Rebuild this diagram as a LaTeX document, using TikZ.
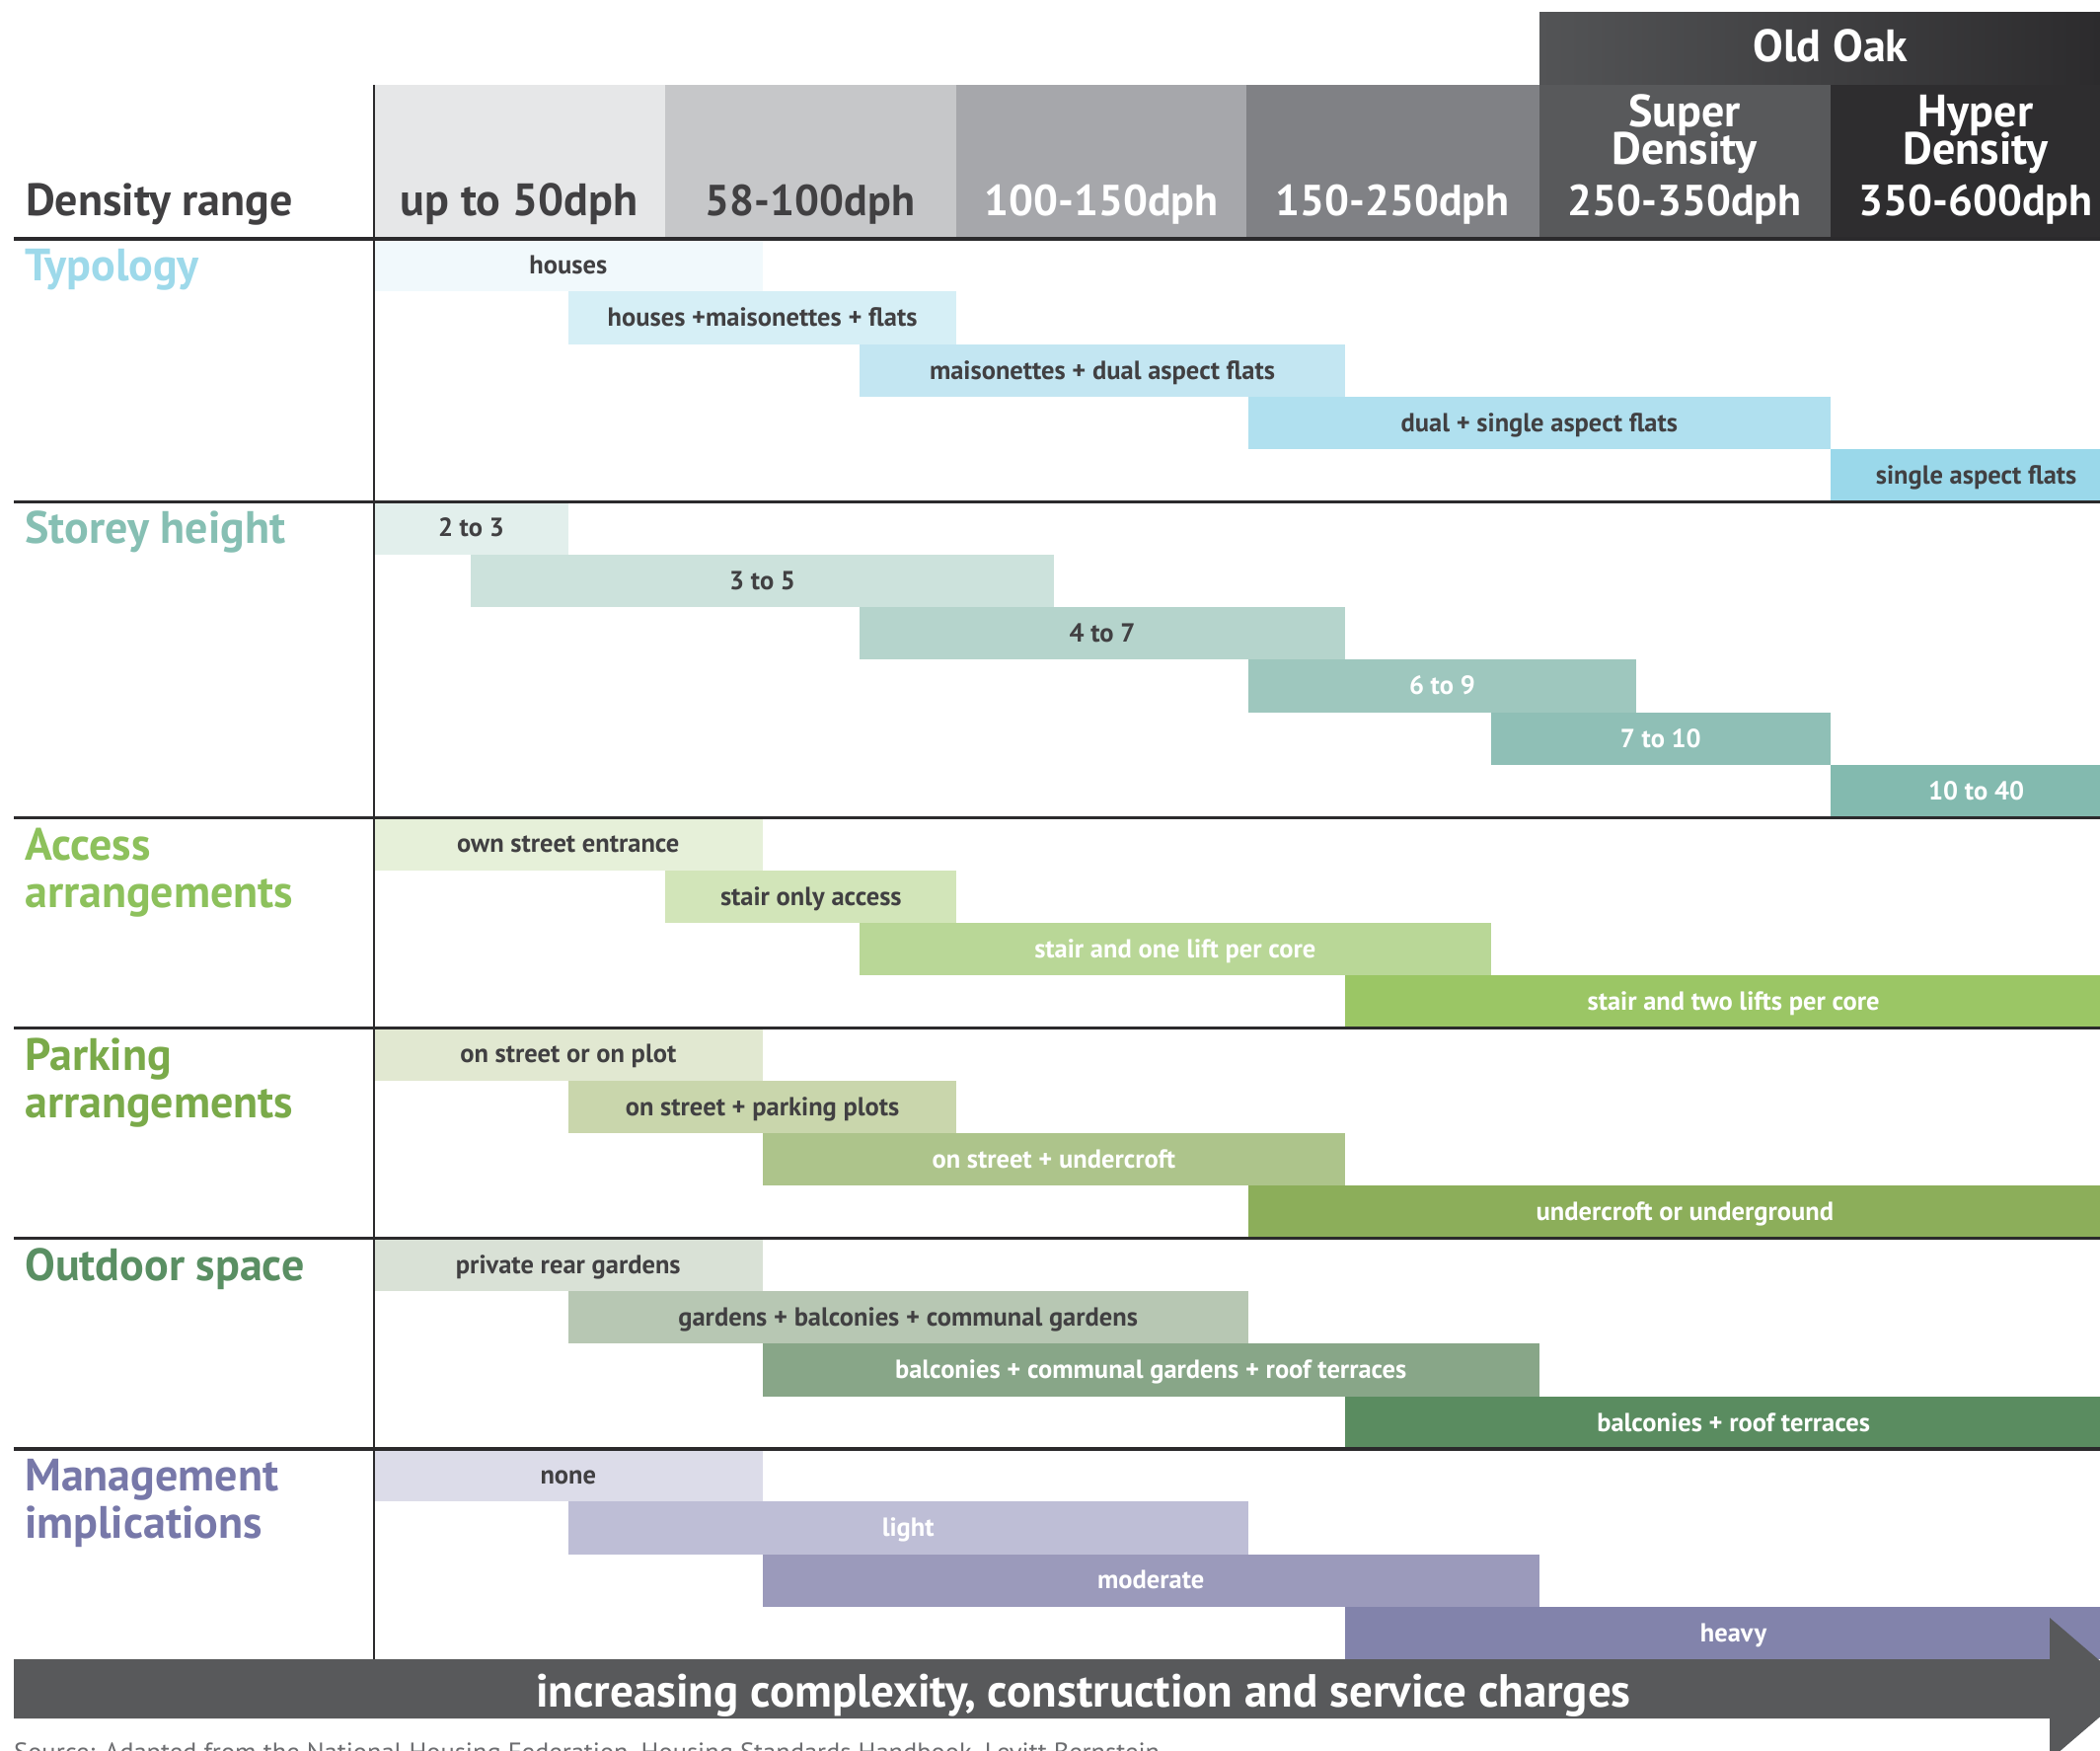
\documentclass[tikz,border=0pt]{standalone}
\usepackage{fontspec}
\setmainfont{PT Sans}
\definecolor{txt}{HTML}{414042}
\definecolor{lin}{HTML}{2B2A2C}
\definecolor{hA}{HTML}{E6E7E8}
\definecolor{hB}{HTML}{C6C7C9}
\definecolor{hC}{HTML}{A6A7AB}
\definecolor{hD}{HTML}{808185}
\definecolor{hE}{HTML}{58595B}
\definecolor{hF}{HTML}{2E2D2F}
\definecolor{ooL}{HTML}{535456}
\definecolor{ooR}{HTML}{2C2B2D}
\definecolor{arr}{HTML}{58595B}
\definecolor{src}{HTML}{6D6E71}
\definecolor{t1}{HTML}{F1F9FC}
\definecolor{t2}{HTML}{D6EFF6}
\definecolor{t3}{HTML}{C3E6F2}
\definecolor{t4}{HTML}{B0E0EF}
\definecolor{t5}{HTML}{9AD8EA}
\definecolor{s1}{HTML}{E2EFEC}
\definecolor{s2}{HTML}{CCE2DC}
\definecolor{s3}{HTML}{B5D4CC}
\definecolor{s4}{HTML}{9EC7BE}
\definecolor{s5}{HTML}{8FBFB6}
\definecolor{s6}{HTML}{83BAAF}
\definecolor{a1}{HTML}{E6F0D9}
\definecolor{a2}{HTML}{D2E5B9}
\definecolor{a3}{HTML}{B9D797}
\definecolor{a4}{HTML}{9BC665}
\definecolor{p1}{HTML}{E1E8D1}
\definecolor{p2}{HTML}{C9D6AC}
\definecolor{p3}{HTML}{ADC48B}
\definecolor{p4}{HTML}{8CAE5A}
\definecolor{o1}{HTML}{D9E1D6}
\definecolor{o2}{HTML}{B7C7B3}
\definecolor{o3}{HTML}{88A688}
\definecolor{o4}{HTML}{5A8C60}
\definecolor{m1}{HTML}{DCDCE9}
\definecolor{m2}{HTML}{BEBED6}
\definecolor{m3}{HTML}{9B9ABB}
\definecolor{m4}{HTML}{8283AB}
\definecolor{cTy}{HTML}{9DD9EA}
\definecolor{cSt}{HTML}{86BFB3}
\definecolor{cAc}{HTML}{8DC15C}
\definecolor{cPa}{HTML}{7AAA4A}
\definecolor{cOu}{HTML}{5A8F63}
\definecolor{cMa}{HTML}{7778A9}
\begin{document}
\begin{tikzpicture}[x=1pt,y=-1pt,
  barbox/.style={inner sep=0pt, minimum height=53.3pt, text height=17.5pt, text depth=0pt,
     font=\fontsize{26.5}{30}\selectfont\bfseries},
  hdrtxt/.style={inner sep=0pt, anchor=base, font=\fontsize{46}{38}\selectfont\bfseries},
  twoline/.style={inner sep=0pt, anchor=base, align=center,
     font=\fontsize{46}{38}\selectfont\bfseries},
  dphtxt/.style={inner sep=0pt, anchor=base, font=\fontsize{44}{38}\selectfont\bfseries},
  ttl/.style={inner sep=0pt, anchor=base west, font=\fontsize{46}{48}\selectfont\bfseries, align=left},
  sepline/.style={draw=lin, line width=3.2pt},
  vline/.style={draw=lin, line width=2pt}]
\lineskiplimit=-100pt
\useasboundingbox (0,0) rectangle (2128,1774);
\clip (0,0) rectangle (2128,1774);
% header columns
\fill[hA] (379,86) rectangle (674,242);
\fill[hB] (674,86) rectangle (969,242);
\fill[hC] (969,86) rectangle (1263,242);
\fill[hD] (1263,86) rectangle (1560,242);
\fill[hE] (1560,86) rectangle (1855,242);
\fill[hF] (1855,86) rectangle (2128,242);
\shade[left color=ooL, right color=ooR] (1560,13) rectangle (2128,86);
\node[hdrtxt, text=white] (oldoak) at (1855,63) {Old Oak};
\node[inner sep=0pt, anchor=base west, font=\fontsize{46}{38}\selectfont\bfseries, text=txt] (dens) at (26,218) {Density range};
\node[hdrtxt, text=txt] (c1) at (526,218) {up to 50dph};
\node[dphtxt, text=txt] (c2) at (821,218) {58-100dph};
\node[dphtxt, text=white] (c3) at (1116,218) {100-150dph};
\node[dphtxt, text=white] (c4) at (1411,218) {150-250dph};
\node[twoline, text=white] (c5a) at (1707,166) {Super\\Density};
\node[dphtxt, text=white] (c5) at (1707,218) {250-350dph};
\node[twoline, text=white] (c6a) at (2002,166) {Hyper\\Density};
\node[dphtxt, text=white] (c6) at (2002,218) {350-600dph};
% bars
\foreach \a/\b/\k/\c/\t/\n/\lab in {
 0/4/0/t1/txt/b1/houses,
 2/6/1/t2/txt/b2/houses +maisonettes + flats,
 5/10/2/t3/txt/b3/maisonettes + dual aspect flats,
 9/15/3/t4/txt/b4/dual + single aspect flats,
 15/18/4/t5/txt/b5/single aspect flats,
 0/2/5/s1/txt/b6/2 to 3,
 1/7/6/s2/txt/b7/3 to 5,
 5/10/7/s3/txt/b8/4 to 7,
 9/13/8/s4/white/b9/6 to 9,
 11.5/15/9/s5/white/b10/7 to 10,
 15/18/10/s6/white/b11/10 to 40,
 0/4/11/a1/txt/b12/own street entrance,
 3/6/12/a2/txt/b13/stair only access,
 5/11.5/13/a3/white/b14/stair and one lift per core,
 10/18/14/a4/white/b15/stair and two lifts per core,
 0/4/15/p1/txt/b16/on street or on plot,
 2/6/16/p2/txt/b17/on street + parking plots,
 4/10/17/p3/white/b18/on street + undercroft,
 9/18/18/p4/white/b19/undercroft or underground,
 0/4/19/o1/txt/b20/private rear gardens,
 2/9/20/o2/txt/b21/gardens + balconies + communal gardens,
 4/12/21/o3/white/b22/balconies + communal gardens + roof terraces,
 10/18/22/o4/white/b23/balconies + roof terraces,
 0/4/23/m1/txt/b24/none,
 2/9/24/m2/white/b25/light,
 4/12/25/m3/white/b26/moderate,
 10/18/26/m4/white/b27/heavy}{
  \pgfmathsetmacro\xa{379+\a*98.4}
  \pgfmathsetmacro\xb{379+\b*98.4}
  \pgfmathsetmacro\xm{(\xa+\xb)/2}
  \pgfmathsetmacro\yc{242+(\k+0.5)*53.3}
  \pgfmathsetmacro\w{\xb-\xa}
  \node[barbox, fill=\c, text=\t, minimum width=\w pt] (\n) at (\xm,\yc) {\lab};
}
% section titles (base = last line)
\node[ttl, text=cTy] (tty) at (25,284) {Typology};
\node[ttl, text=cSt] (tst) at (25,550) {Storey height};
\node[ttl, text=cAc] (tac) at (25,919) {Access\\arrangements};
\node[ttl, text=cPa] (tpa) at (25,1132) {Parking\\arrangements};
\node[ttl, text=cOu] (tou) at (25,1297) {Outdoor space};
\node[ttl, text=cMa] (tma) at (25,1558) {Management\\implications};
% lines
\draw[sepline] (14,242) -- (2128,242);
\draw[sepline] (14,508.5) -- (2128,508.5);
\draw[sepline] (14,828.3) -- (2128,828.3);
\draw[sepline] (14,1041.5) -- (2128,1041.5);
\draw[sepline] (14,1254.7) -- (2128,1254.7);
\draw[sepline] (14,1467.9) -- (2128,1467.9);
\draw[vline] (379,86) -- (379,1681);
% arrow
\fill[arr] (14,1681) -- (2077,1681) -- (2077,1639) -- (2161,1711) -- (2077,1783) -- (2077,1741) -- (14,1741) -- cycle;
\node[inner sep=0pt, anchor=base, text=white, font=\fontsize{47}{50}\selectfont\bfseries] (arrtxt) at (1098,1729) {increasing complexity, construction and service charges};
\node[inner sep=0pt, anchor=base west, text=src, font=\fontsize{26.5}{30}\selectfont] (source) at (14,1784) {Source: Adapted from the National Housing Federation, Housing Standards Handbook, Levitt Bernstein};
\end{tikzpicture}
\end{document}
